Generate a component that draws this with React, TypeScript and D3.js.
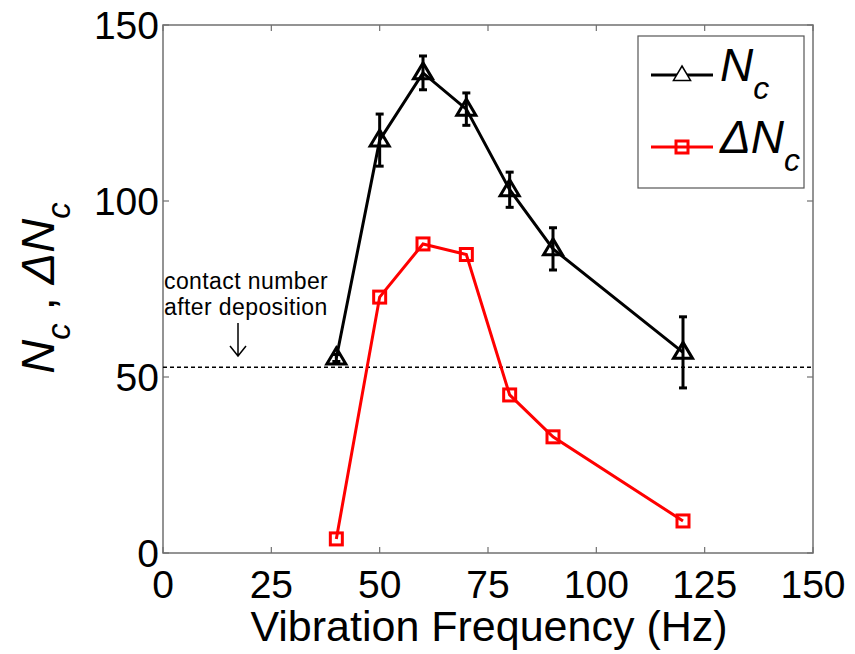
import {useEffect, useRef} from "react";
import * as d3 from "d3";

const freqs = [40, 50, 60, 70, 80, 90, 120];
const ncValues = [55.4, 117.3, 136.4, 126.1, 103.2, 86.4, 57.0];
const ncErrors = [1, 7.4, 4.8, 4.6, 5.0, 6.0, 10.1];
const dncValues = [4, 72.7, 87.8, 84.8, 44.9, 33.0, 9.1];
const depositionLevel = 52.8;
const xTicks = [0, 25, 50, 75, 100, 125, 150];
const yTicks = [0, 50, 100, 150];

const App = () => {
	const svgRef = useRef(null);

	useEffect(() => {
		const width = 855;
		const height = 654;
		const left = 163, right = 813, top = 25, bottom = 553;
		const font = "'Liberation Sans', Arial, sans-serif";

		const x = d3.scaleLinear().domain([0, 150]).range([left, right]);
		const y = d3.scaleLinear().domain([0, 150]).range([bottom, top]);

		const svg = d3.select(svgRef.current)
			.attr("width", width)
			.attr("height", height)
			.attr("viewBox", [0, 0, width, height]);
		svg.selectAll("*").remove();

		svg.append("rect").attr("width", width).attr("height", height).attr("fill", "#fff");

		const axisColor = "#707070";
		// frame
		svg.append("rect")
			.attr("x", left).attr("y", top)
			.attr("width", right - left).attr("height", bottom - top)
			.attr("fill", "none").attr("stroke", axisColor).attr("stroke-width", 1.5);

		const tickLen = 6;
		xTicks.forEach((t) => {
			svg.append("line").attr("x1", x(t)).attr("x2", x(t))
				.attr("y1", bottom).attr("y2", bottom - tickLen)
				.attr("stroke", axisColor).attr("stroke-width", 1.2);
			svg.append("line").attr("x1", x(t)).attr("x2", x(t))
				.attr("y1", top).attr("y2", top + tickLen)
				.attr("stroke", axisColor).attr("stroke-width", 1.2);
			svg.append("text").attr("x", x(t)).attr("y", 598)
				.attr("text-anchor", "middle")
				.style("font-family", font).style("font-size", "39px")
				.text(t);
		});
		yTicks.forEach((t) => {
			svg.append("line").attr("x1", left).attr("x2", left + tickLen)
				.attr("y1", y(t)).attr("y2", y(t))
				.attr("stroke", axisColor).attr("stroke-width", 1.2);
			svg.append("line").attr("x1", right).attr("x2", right - tickLen)
				.attr("y1", y(t)).attr("y2", y(t))
				.attr("stroke", axisColor).attr("stroke-width", 1.2);
			svg.append("text").attr("x", 159).attr("y", y(t) + 14)
				.attr("text-anchor", "end")
				.style("font-family", font).style("font-size", "39px")
				.text(t);
		});

		// axis labels
		svg.append("text").attr("x", 489).attr("y", 641)
			.attr("text-anchor", "middle")
			.style("font-family", font).style("font-size", "43px")
			.text("Vibration Frequency (Hz)");

		const yl = svg.append("text")
			.attr("transform", "translate(54,288) rotate(-90)")
			.attr("text-anchor", "middle")
			.style("font-family", font).style("font-size", "47px");
		yl.append("tspan").style("font-style", "italic").text("N");
		yl.append("tspan").attr("dy", 16).style("font-size", "33px").style("font-style", "italic").text("c");
		yl.append("tspan").attr("dy", -16).text(" , ");
		yl.append("tspan").style("font-style", "italic").text("\u0394N");
		yl.append("tspan").attr("dy", 16).style("font-size", "33px").style("font-style", "italic").text("c");

		// deposition reference line
		svg.append("line")
			.attr("x1", left).attr("x2", right)
			.attr("y1", y(depositionLevel)).attr("y2", y(depositionLevel))
			.attr("stroke", "#000").attr("stroke-width", 1.5)
			.attr("stroke-dasharray", "4,3");

		svg.append("text").attr("x", 164).attr("y", 289)
			.style("font-family", font).style("font-size", "23px")
			.style("letter-spacing", "0.4px")
			.text("contact number");
		svg.append("text").attr("x", 164).attr("y", 315)
			.style("font-family", font).style("font-size", "23px")
			.style("letter-spacing", "0.4px")
			.text("after deposition");
		svg.append("path")
			.attr("d", `M238,323 L238,356 M230,346 L238,356 L246,346`)
			.attr("fill", "none").attr("stroke", "#000").attr("stroke-width", 1.5);

		const line = d3.line().x((d) => x(d[0])).y((d) => y(d[1]));

		// Nc series
		const ncData = freqs.map((f, i) => [f, ncValues[i]]);
		svg.append("path").datum(ncData).attr("d", line)
			.attr("fill", "none").attr("stroke", "#000").attr("stroke-width", 3);

		const errG = svg.append("g").attr("stroke", "#000").attr("stroke-width", 3);
		freqs.forEach((f, i) => {
			const cx = x(f);
			const y1 = y(ncValues[i] + ncErrors[i]);
			const y2 = y(ncValues[i] - ncErrors[i]);
			errG.append("line").attr("x1", cx).attr("x2", cx).attr("y1", y1).attr("y2", y2);
			errG.append("line").attr("x1", cx - 4).attr("x2", cx + 4).attr("y1", y1).attr("y2", y1);
			errG.append("line").attr("x1", cx - 4).attr("x2", cx + 4).attr("y1", y2).attr("y2", y2);
		});

		const tri = (cx, cy, s) =>
			`M${cx},${cy - s} L${cx + s * 0.95},${cy + s * 0.6} L${cx - s * 0.95},${cy + s * 0.6} Z`;
		svg.append("g").selectAll("path").data(ncData).enter().append("path")
			.attr("d", (d) => tri(x(d[0]), y(d[1]), 10))
			.attr("fill", "none").attr("stroke", "#000").attr("stroke-width", 3);

		// delta Nc series
		const dncData = freqs.map((f, i) => [f, dncValues[i]]);
		svg.append("path").datum(dncData).attr("d", line)
			.attr("fill", "none").attr("stroke", "#f00").attr("stroke-width", 3);
		svg.append("g").selectAll("rect").data(dncData).enter().append("rect")
			.attr("x", (d) => x(d[0]) - 6).attr("y", (d) => y(d[1]) - 6)
			.attr("width", 12).attr("height", 12)
			.attr("fill", "none").attr("stroke", "#f00").attr("stroke-width", 3);

		// legend
		const lg = svg.append("g");
		lg.append("rect").attr("x", 638).attr("y", 36).attr("width", 166).attr("height", 152)
			.attr("fill", "#fff").attr("stroke", "#555").attr("stroke-width", 1.2);
		lg.append("line").attr("x1", 651).attr("x2", 713).attr("y1", 75).attr("y2", 75)
			.attr("stroke", "#000").attr("stroke-width", 3);
		lg.append("path").attr("d", tri(682, 75, 9)).attr("fill", "#fff")
			.attr("stroke", "#000").attr("stroke-width", 1.5);
		lg.append("line").attr("x1", 651).attr("x2", 713).attr("y1", 147).attr("y2", 147)
			.attr("stroke", "#f00").attr("stroke-width", 3);
		lg.append("rect").attr("x", 676).attr("y", 141).attr("width", 12).attr("height", 12)
			.attr("fill", "none").attr("stroke", "#f00").attr("stroke-width", 3);

		const t1 = lg.append("text").attr("x", 720).attr("y", 81)
			.style("font-family", font).style("font-size", "46px");
		t1.append("tspan").style("font-style", "italic").text("N");
		t1.append("tspan").attr("dy", 18).style("font-size", "32px").style("font-style", "italic").text("c");
		const t2 = lg.append("text").attr("x", 720).attr("y", 153)
			.style("font-family", font).style("font-size", "46px");
		t2.append("tspan").style("font-style", "italic").text("\u0394N");
		t2.append("tspan").attr("dy", 18).style("font-size", "32px").style("font-style", "italic").text("c");
	}, []);

	return (
		<div style={{position: "absolute", left: 0, top: 0}}>
			<svg ref={svgRef}></svg>
		</div>
	);
};

export default App;
